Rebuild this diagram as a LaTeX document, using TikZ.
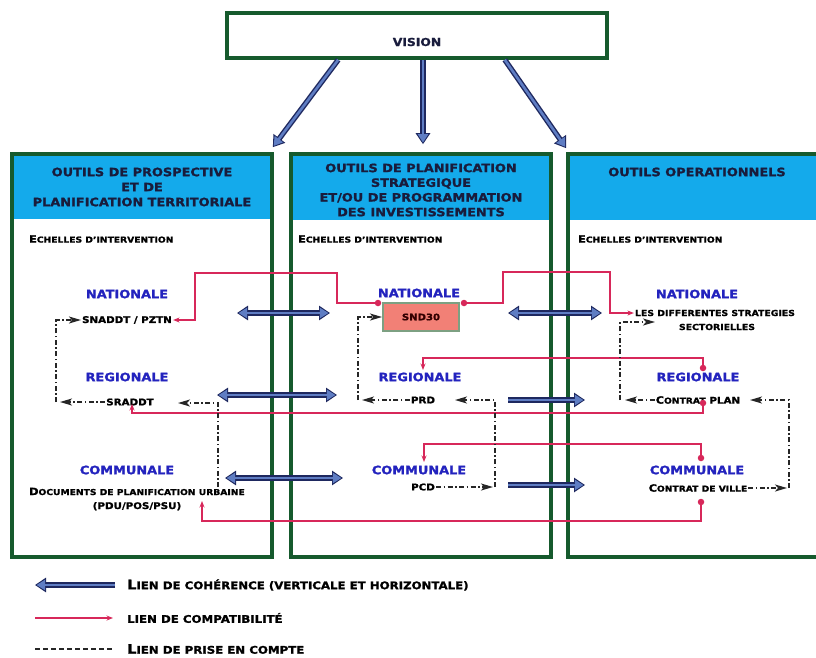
\documentclass[tikz,border=0pt]{standalone}
\usepackage{fontspec}
\setmainfont{DejaVu Sans}[FakeStretch=1.12, BoldFeatures={FakeBold=1.4}]
\usetikzlibrary{arrows.meta}
\definecolor{gborder}{RGB}{22,90,45}
\definecolor{hdrbg}{RGB}{20,170,235}
\definecolor{hdrtxt}{RGB}{25,28,60}
\definecolor{lvlc}{RGB}{35,35,190}
\definecolor{compat}{RGB}{215,40,90}
\definecolor{cohfill}{RGB}{95,125,195}
\definecolor{cohdark}{RGB}{30,40,95}
\definecolor{sndfill}{RGB}{242,128,118}
\definecolor{sndline}{RGB}{125,160,130}
\newcommand\mysc[2]{{\fontsize{10}{12}\selectfont #1}{\fontsize{8.2}{12}\selectfont #2}}
\newcommand\mylsc[2]{{\fontsize{13}{15}\selectfont #1}{\fontsize{10.5}{15}\selectfont #2}}
\tikzset{
  colbox/.style={draw=gborder, line width=3.6pt, rectangle, inner sep=0pt},
  hdr/.style={font=\fontsize{11.5}{15}\selectfont\bfseries, text=hdrtxt, align=center, inner sep=0pt},
  lvl/.style={font=\fontsize{11.5}{13}\selectfont\bfseries, text=lvlc, inner sep=1pt},
  item/.style={font=\fontsize{9.2}{12}\selectfont\bfseries, text=black, inner sep=1pt},
  scitem/.style={font=\bfseries, text=black, inner sep=1pt},
  dot/.style={circle, fill=compat, inner sep=0pt, minimum size=6.5pt},
  cl/.style={draw=compat, line width=1.1pt},
  clarr/.style={cl, -{Stealth[length=6.5pt,width=5pt]}},
  dd/.style={draw=black!85, line width=1.3pt, dash pattern=on 5pt off 2.5pt on 1.5pt off 2.5pt},
  ddarr/.style={dd, -{Stealth[length=12pt,width=7pt,inset=3pt]}},
  coh/.style={line width=2.6pt, draw=cohfill, shorten >=1.6pt,
    -{Triangle[length=8.5pt,width=10pt]},
    preaction={draw=cohdark, line width=5.4pt, shorten >=0pt, -{Triangle[length=11pt,width=14pt]}}},
  cohboth/.style={line width=2.6pt, draw=cohfill, shorten >=1.6pt, shorten <=1.6pt,
    {Triangle[length=8.5pt,width=10pt]}-{Triangle[length=8.5pt,width=10pt]},
    preaction={draw=cohdark, line width=5.4pt, shorten >=0pt, shorten <=0pt,
      {Triangle[length=11pt,width=14pt]}-{Triangle[length=11pt,width=14pt]}}},
}
\begin{document}
\begin{tikzpicture}[x=1pt,y=-1pt]
\useasboundingbox (0,0) rectangle (816,657);
\fill[white] (0,0) rectangle (816,657);
\clip (0,0) rectangle (816,657);

% header backgrounds
\fill[hdrbg] (12,154) rectangle (272,219);
\fill[hdrbg] (291,154) rectangle (551,220);
\fill[hdrbg] (568,154) rectangle (830,220);

% boxes
\node[colbox, minimum width=380pt, minimum height=45pt] (vision) at (417,35.5) {};
\node[colbox, minimum width=260pt, minimum height=403pt] (c1) at (142,355.5) {};
\node[colbox, minimum width=260pt, minimum height=403pt] (c2) at (421,355.5) {};
\node[colbox, minimum width=262pt, minimum height=403pt] (c3) at (699,355.5) {};

\node[font=\fontsize{11}{12}\selectfont\bfseries, text=hdrtxt] (visiont) at (417,42) {VISION};

% headers
\node[hdr] (h1) at (142,187) {OUTILS DE PROSPECTIVE\\ET DE\\PLANIFICATION TERRITORIALE};
\node[hdr, font=\fontsize{11.5}{14.7}\selectfont\bfseries] (h2) at (421,190) {OUTILS DE PLANIFICATION\\STRATEGIQUE\\ET/OU DE PROGRAMMATION\\DES INVESTISSEMENTS};
\node[hdr] (h3) at (697,172) {OUTILS OPERATIONNELS};

% echelles
\node[scitem, anchor=west, inner sep=0pt] (e1) at (29,239) {\mysc{E}{CHELLES D’INTERVENTION}};
\node[scitem, anchor=west, inner sep=0pt] (e2) at (298,239) {\mysc{E}{CHELLES D’INTERVENTION}};
\node[scitem, anchor=west, inner sep=0pt] (e3) at (578,239) {\mysc{E}{CHELLES D’INTERVENTION}};

% levels
\node[lvl] (n1) at (127,294) {NATIONALE};
\node[lvl] (r1) at (127,377) {REGIONALE};
\node[lvl] (m1) at (127,470) {COMMUNALE};
\node[lvl] (n2) at (419,293) {NATIONALE};
\node[lvl] (r2) at (420,377) {REGIONALE};
\node[lvl] (m2) at (419,470) {COMMUNALE};
\node[lvl] (n3) at (697,294) {NATIONALE};
\node[lvl] (r3) at (698,377) {REGIONALE};
\node[lvl] (m3) at (697,470) {COMMUNALE};

% items
\node[item] (snaddt) at (127,320) {SNADDT / PZTN};
\node[item] (sraddt) at (130,402) {SRADDT};
\node[scitem, align=center, font=\bfseries\fontsize{8.2}{14}\selectfont] (docs) at (137,499)
  {\mysc{D}{OCUMENTS DE PLANIFICATION URBAINE}\\{\fontsize{9.2}{12}\selectfont (PDU/POS/PSU)}};
\node[rectangle, fill=sndfill, draw=sndline, line width=2pt, minimum width=76pt, minimum height=28pt,
  font=\fontsize{9}{11}\selectfont\bfseries, text=black!80!red] (snd) at (421,317) {SND30};
\node[item] (prd) at (423,400) {PRD};
\node[item] (pcd) at (423,487) {PCD};
\node[scitem, font=\fontsize{8.3}{10}\selectfont\bfseries] (strat) at (715,313) {LES DIFFERENTES STRATEGIES};
\node[scitem, font=\fontsize{8.3}{10}\selectfont\bfseries] (sect) at (717,327) {SECTORIELLES};
\node[scitem] (cplan) at (698,400) {\mysc{C}{ONTRAT} {\fontsize{9.2}{12}\selectfont PLAN}};
\node[scitem] (cville) at (698,488) {\mysc{C}{ONTRAT DE VILLE}};

% vision arrows
\draw[coh] ([xshift=113pt]vision.south west) -- ([xshift=-1pt,yshift=5pt]c1.north east);
\draw[coh] (vision.south -| c2.north) ++(2,0) coordinate (vm) -- ([xshift=2pt,yshift=8pt]c2.north);
\draw[coh] ([xshift=-104pt]vision.south east) -- ([yshift=4pt]c3.north west);

% coherence arrows between columns
\coordinate (a1) at (237,313); \coordinate (b1) at (330,313);
\coordinate (a2) at (508,313); \coordinate (b2) at (602,313);
\coordinate (a3) at (217,395); \coordinate (b3) at (337,395);
\coordinate (a4) at (225,478); \coordinate (b4) at (343,478);
\coordinate (a5) at (508,400); \coordinate (b5) at (585,400);
\coordinate (a6) at (508,485); \coordinate (b6) at (585,485);
\draw[cohboth] (a1) -- (b1);
\draw[cohboth] (a2) -- (b2);
\draw[cohboth] (a3) -- (b3);
\draw[cohboth] (a4) -- (b4);
\draw[coh] (a5) -- (b5);
\draw[coh] (a6) -- (b6);

% compatibility links
\node[dot] (p1) at (378,303) {};
\node[dot] (p2) at (464,303) {};
\node[dot] (p3) at (703,368) {};
\node[dot] (p4) at (703,403) {};
\node[dot] (p5) at (701,458) {};
\node[dot] (p6) at (701,502) {};
\coordinate (t3) at (423,370);
\coordinate (t4) at (132,404);
\coordinate (t5) at (424,462);
\coordinate (t6) at (202,501);
\draw[clarr] (p1.center) -- (337,303) -- (337,273) -- (195,273) |- (snaddt.east);
\draw[clarr] (p2.center) -- (503,303) -- (503,272) -- (610,272) |- (strat.west);
\draw[clarr] (p3.center) -- (703,358) -| (t3);
\draw[clarr] (p4.center) -- (703,413) -| (t4);
\draw[clarr] (p5.center) -- (701,444) -| (t5);
\draw[clarr] (p6.center) -- (701,521) -| (t6);

% prise en compte links
\coordinate (s1) at (60,402);
\coordinate (s2) at (178,403);
\coordinate (s3) at (362,400);
\coordinate (s4) at (455,400);
\coordinate (s5) at (493,487);
\coordinate (s6) at (625,400);
\coordinate (s7) at (655,322);
\coordinate (s8) at (750,400);
\coordinate (s9) at (787,488);
\draw[ddarr] (sraddt.west) -- (s1);
\draw[ddarr] (56,402) -- (56,320) -- (snaddt.west);
\draw[ddarr] (218,487) -- (218,403) -- (s2);
\draw[ddarr] (prd.west) -- (s3);
\draw[ddarr] (358,400) -- (358,317) -- (snd.west);
\draw[ddarr] (pcd.east) -- (s5);
\draw[ddarr] (495,487) -- (495,400) -- (s4);
\draw[ddarr] (cplan.west) -- (s6);
\draw[ddarr] (620,400) -- (620,322) -- (s7);
\draw[ddarr] (cville.east) -- (s9);
\draw[ddarr] (789,488) -- (789,400) -- (s8);

% legend
\coordinate (la) at (115,585); \coordinate (lb) at (35,585);
\coordinate (lc) at (35,618); \coordinate (ld) at (113,618);
\coordinate (le) at (35,649); \coordinate (lf) at (113,649);
\draw[coh] (la) -- (lb);
\draw[clarr] (lc) -- (ld);
\draw[dd, dash pattern=on 5pt off 3pt] (le) -- (lf);
\node[scitem, anchor=west, inner sep=0pt] (l1) at (127,585) {\mylsc{L}{IEN DE COHÉRENCE (VERTICALE ET HORIZONTALE)}};
\node[scitem, anchor=west, inner sep=0pt, font=\fontsize{10.5}{12}\selectfont\bfseries] (l2) at (127,618) {LIEN DE COMPATIBILITÉ};
\node[scitem, anchor=west, inner sep=0pt] (l3) at (127,649) {\mylsc{L}{IEN DE PRISE EN COMPTE}};
\end{tikzpicture}
\end{document}
